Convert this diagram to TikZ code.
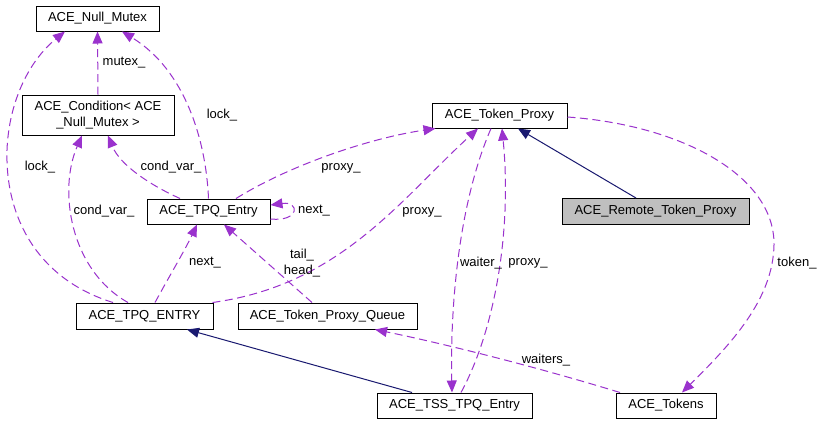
\documentclass[tikz,border=0pt]{standalone}
\usepackage{fontspec}
\setmainfont{Liberation Sans}
\usetikzlibrary{arrows.meta}
\definecolor{dep}{HTML}{9A32CD}
\definecolor{inh}{HTML}{191970}
\definecolor{boxfill}{HTML}{BFBFBF}
\tikzset{
  cls/.style={draw=black, line width=1pt, fill=white, minimum height=25pt, inner sep=0pt, font=\fontsize{13}{15.5}\selectfont, align=center},
  lbl/.style={font=\fontsize{13}{15.5}\selectfont, inner sep=0pt, align=center},
  depedge/.style={draw=dep, line width=1pt, dash pattern=on 8pt off 4.5pt, -{Triangle[length=12pt,width=10pt]}},
  inhedge/.style={draw=inh, line width=1pt, -{Triangle[length=12pt,width=10pt]}}
}
\begin{document}
\begin{tikzpicture}[x=1pt,y=-1pt]
\path[use as bounding box, fill=white] (0,0) rectangle (822,424);
% nodes
\node[cls, minimum width=123pt] (NM) at (97.5,18.5) {ACE\_Null\_Mutex};
\node[cls, minimum width=152pt, minimum height=40pt] (CD) at (98,115) {ACE\_Condition< ACE\\\_Null\_Mutex >};
\node[cls, minimum width=123pt] (TE) at (208.5,211.5) {ACE\_TPQ\_Entry};
\node[cls, minimum width=137pt, minimum height=26pt] (TN) at (144.5,316) {ACE\_TPQ\_ENTRY};
\node[cls, minimum width=179pt, minimum height=26pt] (PQ) at (327.5,316) {ACE\_Token\_Proxy\_Queue};
\node[cls, minimum width=155pt] (TS) at (454.5,405.5) {ACE\_TSS\_TPQ\_Entry};
\node[cls, minimum width=100pt] (TK) at (666,405.5) {ACE\_Tokens};
\node[cls, minimum width=135pt] (TP) at (499.5,115.5) {ACE\_Token\_Proxy};
\node[cls, minimum width=187pt, minimum height=26pt, fill=boxfill] (RP) at (655.5,211.5) {ACE\_Remote\_Token\_Proxy};
% edges
\draw[depedge] (CD.north) -- (NM.south);
\draw[depedge] ([xshift=-31.5pt]TN.north) .. controls (40,280) and (5,220) .. (7,150) .. controls (9,100) and (30,60) .. ([xshift=-32.5pt]NM.south);
\draw[depedge] (TE.north) .. controls (206,140) and (185,70) .. ([xshift=24.5pt]NM.south);
\draw[depedge] ([xshift=-28.5pt]TE.north) .. controls (150,185) and (120,165) .. ([xshift=10pt]CD.south);
\draw[depedge] ([xshift=-16.5pt]TN.north) .. controls (70,270) and (58,190) .. ([xshift=-16pt]CD.south);
\draw[depedge] ([xshift=10.5pt]TN.north) .. controls (170,275) and (185,250) .. ([xshift=-11.5pt]TE.south);
\draw[depedge] ([yshift=-7.5pt]TE.east) .. controls (300,222) and (300,201) .. ([yshift=6.5pt]TE.east);
\draw[depedge] ([xshift=-15.5pt]PQ.north) -- ([xshift=15.5pt]TE.south);
\draw[depedge] ([xshift=27.5pt]TE.north) .. controls (290,165) and (370,138) .. ([xshift=4pt]TP.south west);
\draw[depedge] ([xshift=-1pt]TN.north east) .. controls (340,285) and (400,200) .. ([xshift=-21.5pt]TP.south);
\draw[depedge] ([xshift=-8.5pt]TP.south) .. controls (460,200) and (450,300) .. ([xshift=-2.5pt]TS.north);
\draw[depedge] ([xshift=6.5pt]TS.north) .. controls (495,330) and (512,230) .. ([xshift=2.5pt]TP.south);
\draw[inhedge] ([xshift=-19.5pt]RP.north) -- ([xshift=18.5pt]TP.south);
\draw[depedge] ([yshift=-1.5pt]TP.east) .. controls (680,125) and (775,175) .. (774,245) .. controls (773,300) and (730,345) .. ([xshift=16pt]TK.north);
\draw[depedge] ([xshift=-46pt]TK.north) .. controls (540,368) and (450,345) .. ([xshift=47.5pt]PQ.south);
\draw[inhedge] ([xshift=-42.5pt]TS.north) -- ([xshift=42.5pt]TN.south);
% labels
\node[lbl] (l1) at (124,63) {mutex\_};
\node[lbl] (l2) at (40,167) {lock\_};
\node[lbl] (l3) at (222,115) {lock\_};
\node[lbl] (l4) at (171,167) {cond\_var\_};
\node[lbl] (l5) at (104,211) {cond\_var\_};
\node[lbl] (l6) at (205,263) {next\_};
\node[lbl] (l7) at (314,211) {next\_};
\node[lbl] (l8) at (302,263) {tail\_\\head\_};
\node[lbl] (l9) at (341,168) {proxy\_};
\node[lbl] (l10) at (422,212) {proxy\_};
\node[lbl] (l11) at (481,263) {waiter\_};
\node[lbl] (l12) at (528,263) {proxy\_};
\node[lbl] (l13) at (797,263) {token\_};
\node[lbl] (l14) at (546,360) {waiters\_};
\end{tikzpicture}
\end{document}
